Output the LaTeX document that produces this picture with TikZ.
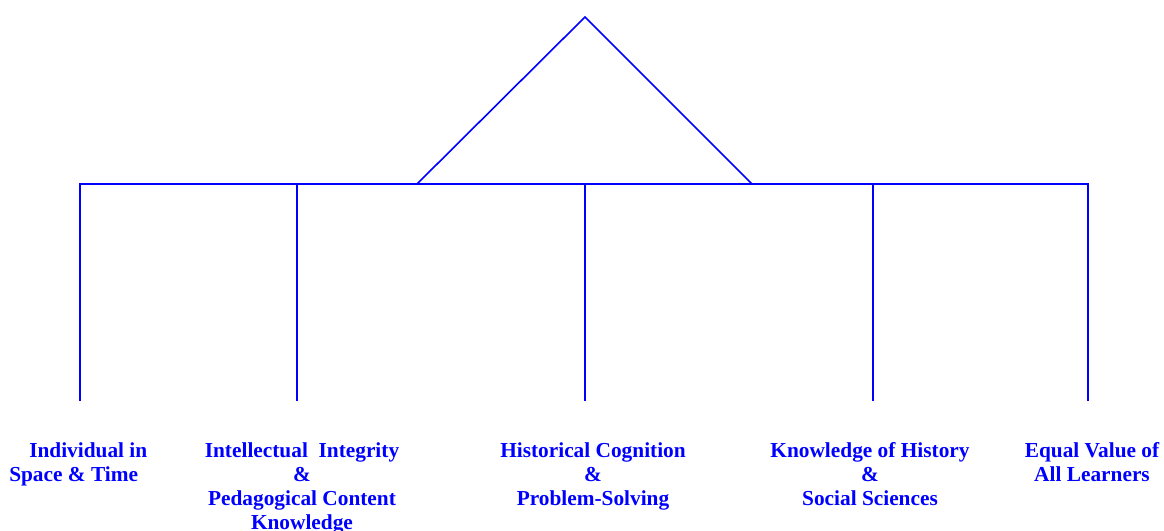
\documentclass[tikz,border=0pt]{standalone}
\usepackage{fontspec}
\setmainfont{Liberation Serif}
\usetikzlibrary{positioning,calc}
\definecolor{pureblue}{RGB}{0,0,255}
\tikzset{
    branch/.style={
        draw=pureblue,
        line width=1.5pt,
        line cap=rect,
    },
    pillar/.style={
        text=pureblue,
        font=\bfseries\fontsize{16}{18}\selectfont,
        align=center,
        anchor=north,
        inner sep=0pt,
    },
    joint/.style={
        coordinate,
    },
}
\begin{document}
\begin{tikzpicture}[x=0.75pt,y=-0.75pt]
                        \useasboundingbox (0,0) rectangle (1164,531);
                        % roof
                        \node [joint] (apex) at (585,17) {};
                        \node [joint] (roofL) at (417,184) {};
                        \node [joint] (roofR) at (752,184) {};
                        % bar and pillars
                        \node [joint] (J1) at (80,184) {};
                        \node [joint] (J2) at (297,184) {};
                        \node [joint] (J3) at (585,184) {};
                        \node [joint] (J4) at (873,184) {};
                        \node [joint] (J5) at (1088,184) {};
                        \node [joint] (F1) at (80,400) {};
                        \node [joint] (F2) at (297,400) {};
                        \node [joint] (F3) at (585,400) {};
                        \node [joint] (F4) at (873,400) {};
                        \node [joint] (F5) at (1088,400) {};
                        \draw [branch, line width=1.2pt] (roofL) -- (apex) -- (roofR);
                        \draw [branch] (J1) -- (J5);
                        \draw [branch] (J1) -- (F1);
                        \draw [branch] (J2) -- (F2);
                        \draw [branch] (J3) -- (F3);
                        \draw [branch] (J4) -- (F4);
                        \draw [branch] (J5) -- (F5);
                        % labels
                        \node [pillar, align=left, anchor=north west] (individual) at (9,442) {\hspace*{15pt}Individual in\\Space \& Time};
                        \node [pillar] (integrity) at (302,442) {Intellectual\ \ Integrity\\\&\\Pedagogical Content\\Knowledge};
                        \node [pillar] (cognition) at (593,442) {Historical Cognition\\\&\\Problem-Solving};
                        \node [pillar] (knowledge) at (870,442) {Knowledge of History\\\&\\Social Sciences};
                        \node [pillar] (equal) at (1092,442) {Equal Value of\\All Learners};
                    \end{tikzpicture}
\end{document}
